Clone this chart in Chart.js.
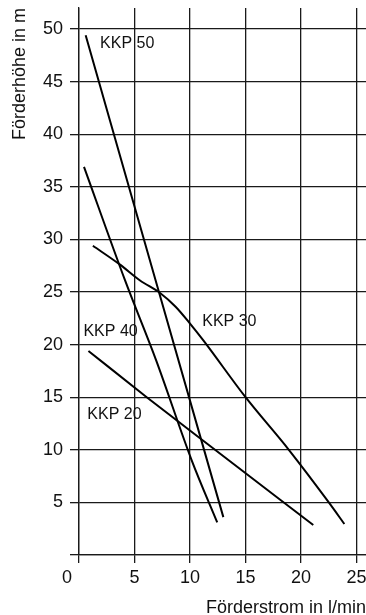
<!DOCTYPE html>
<html>
<head>
<meta charset="utf-8">
<script src="https://cdn.jsdelivr.net/npm/chart.js@4.4.1/dist/chart.umd.min.js"></script>
<style>
    html, body { margin: 0; padding: 0; background: #fff; }
    #wrap { position: relative; width: 366px; height: 615px; }
</style>
</head>
<body>
<div id="wrap"><canvas id="pumpChart"></canvas></div>
<script>
// === KENNLINIEN (Förderstrom l/min -> Förderhöhe m) ===
const kkp50Flow = [0.6, 7.2, 13.0];
const kkp50Head = [49.4, 25.0, 3.6];

const kkp40Flow = [0.45, 4.15, 6.95, 10.15, 12.45];
const kkp40Head = [36.9, 26.1, 18.5, 9.0, 3.1];

const kkp30Flow = [1.25, 3.7, 5.5, 7.3, 8.7, 10.0, 11.2, 15.0, 18.9, 22.5, 23.9];
const kkp30Head = [29.4, 27.6, 26.1, 24.9, 23.6, 22.0, 20.4, 15.0, 10.0, 5.0, 2.95];

const kkp20Flow = [0.85, 6.1, 12.25, 21.1];
const kkp20Head = [19.4, 15.0, 10.0, 2.85];

const curveNames = ['KKP 50', 'KKP 40', 'KKP 30', 'KKP 20'];
// Anker der Beschriftungen (Datenkoordinaten)
const labelFlow = [1.9, 0.4, 11.1, 0.75];
const labelHead = [48.6, 21.2, 22.2, 13.35];

const xTicks = [0, 5, 10, 15, 20, 25];
const yTicks = [0, 5, 10, 15, 20, 25, 30, 35, 40, 45, 50];

const FONT = '"Liberation Sans", Arial, sans-serif';
const toPoints = (xs, ys) => xs.map((x, i) => ({ x: x, y: ys[i] }));

const curve = (name, xs, ys) => ({
    label: name,
    data: toPoints(xs, ys),
    showLine: true,
    borderColor: '#000',
    borderWidth: 2,
    pointRadius: 0,
    cubicInterpolationMode: 'monotone',
    fill: false
});

// eigene Beschriftungen + versetzte "0"
const extraText = {
    id: 'extraText',
    afterDatasetsDraw(chart) {
        const { ctx, scales: { x, y } } = chart;
        ctx.save();
        ctx.fillStyle = '#111';
        ctx.font = '16px ' + FONT;
        ctx.textAlign = 'left';
        ctx.textBaseline = 'middle';
        curveNames.forEach((name, i) => {
            ctx.fillText(name, x.getPixelForValue(labelFlow[i]), y.getPixelForValue(labelHead[i]));
        });
        ctx.font = '18px ' + FONT;
        ctx.textAlign = 'center';
        ctx.fillText('0', x.getPixelForValue(0) - 12, x.top + 23);
        ctx.restore();
    }
};

const pumpCtx = document.getElementById('pumpChart').getContext('2d');
new Chart(pumpCtx, {
    type: 'scatter',
    data: {
        datasets: [
            curve('KKP 50', kkp50Flow, kkp50Head),
            curve('KKP 40', kkp40Flow, kkp40Head),
            curve('KKP 30', kkp30Flow, kkp30Head),
            curve('KKP 20', kkp20Flow, kkp20Head)
        ]
    },
    options: {
        responsive: true,
        maintainAspectRatio: false,
        animation: false,
        layout: { autoPadding: false, padding: { top: 8, right: 0, left: 0, bottom: 0 } },
        plugins: {
            legend: { display: false },
            tooltip: { enabled: false }
        },
        scales: {
            x: {
                type: 'linear',
                min: 0,
                max: 25.85,
                afterBuildTicks: s => { s.ticks = xTicks.map(v => ({ value: v })); },
                afterFit: s => { s.height = 60; s.paddingLeft = 0; s.paddingRight = 0; },
                grid: { color: '#1a1a1a', lineWidth: 1.3, tickLength: 8, tickColor: '#1a1a1a' },
                border: { color: '#1a1a1a', width: 1.3 },
                ticks: {
                    color: '#111',
                    padding: 4,
                    maxRotation: 0,
                    font: { family: FONT, size: 18 },
                    callback: v => v === 0 ? '' : v
                },
                title: {
                    display: true,
                    text: 'Förderstrom in l/min',
                    align: 'end',
                    color: '#111',
                    font: { family: FONT, size: 18, lineHeight: 0.8 },
                    padding: { top: 0, bottom: 0 }
                }
            },
            y: {
                type: 'linear',
                min: 0,
                max: 52,
                afterBuildTicks: s => { s.ticks = yTicks.map(v => ({ value: v })); },
                afterFit: s => { s.width = 79; s.paddingTop = 0; s.paddingBottom = 0; },
                grid: { color: '#1a1a1a', lineWidth: 1.3, tickLength: 9, tickColor: '#1a1a1a' },
                border: { color: '#1a1a1a', width: 1.3 },
                ticks: {
                    color: '#111',
                    padding: 7,
                    font: { family: FONT, size: 18 },
                    callback: v => v === 0 ? '' : v
                },
                title: {
                    display: true,
                    text: 'Förderhöhe in m',
                    align: 'end',
                    color: '#111',
                    font: { family: FONT, size: 18, lineHeight: 1.2 },
                    padding: { top: 9, bottom: 0 }
                }
            }
        }
    },
    plugins: [extraText]
});
</script>
</body>
</html>
